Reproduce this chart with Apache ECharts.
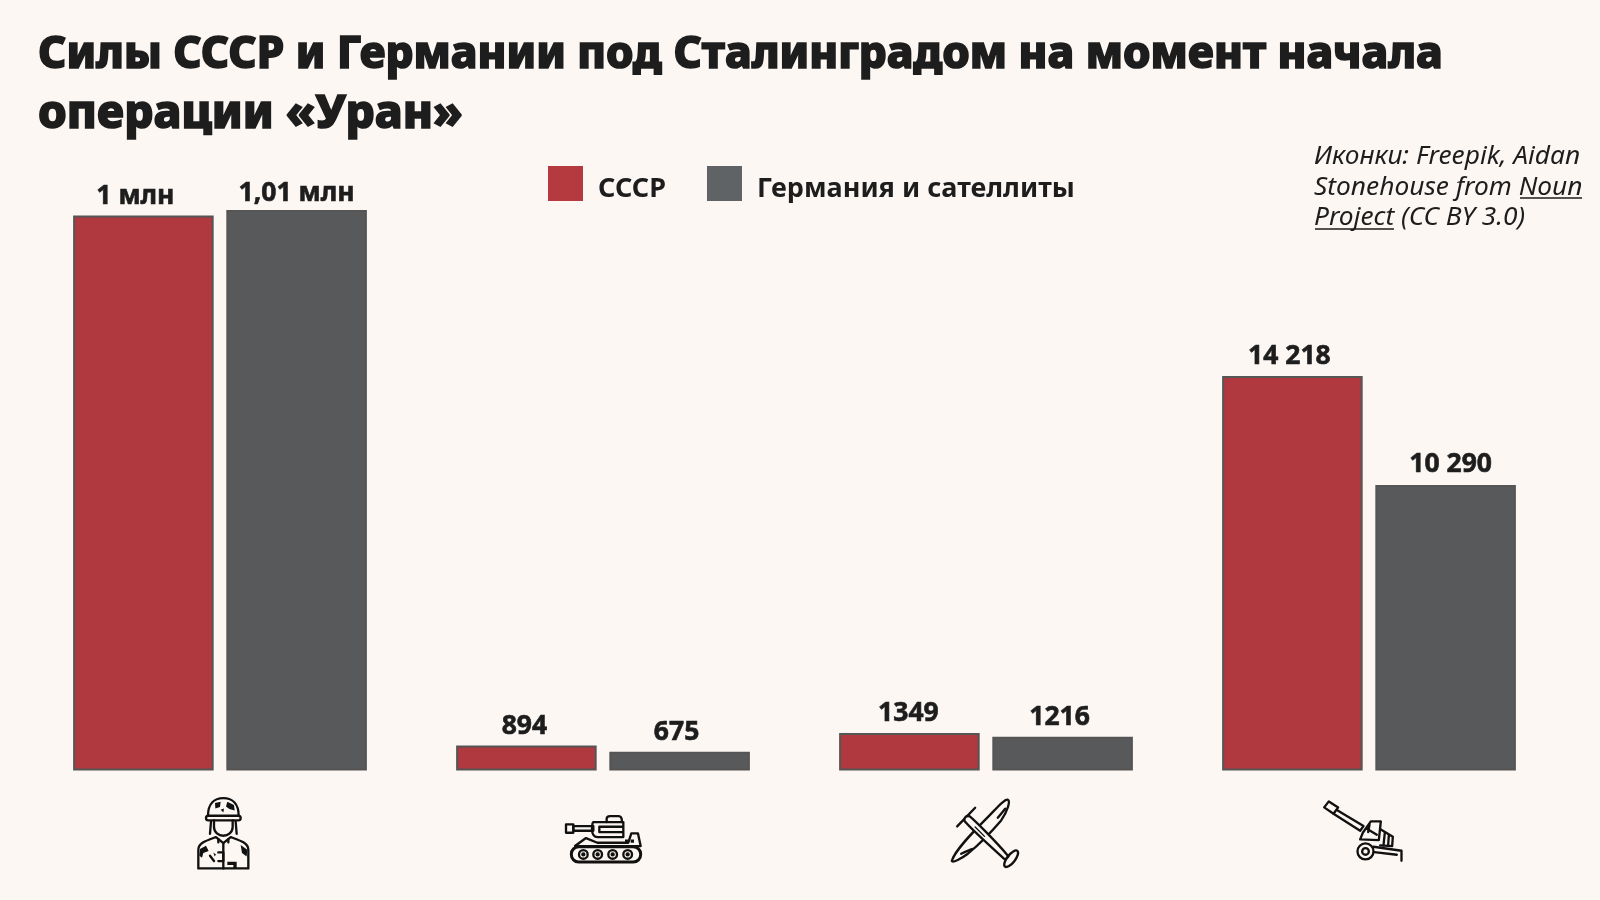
<!DOCTYPE html>
<html>
<head>
<meta charset="utf-8">
<title>Силы СССР и Германии</title>
<script src="https://cdn.jsdelivr.net/npm/echarts@6/dist/echarts.min.js"></script>
<style>
html, body { margin: 0; padding: 0; background: #fcf7f3; }
#chart { width: 1600px; height: 900px; }
</style>
</head>
<body>
<div id="chart"></div>
<script>
var categories = ['soldier', 'tank', 'plane', 'gun'];
var seriesNames = ['СССР', 'Германия и сателлиты'];
// the first group is drawn at 1/50 of its real size (1 млн -> 20000), as in the original
var ussrValues = [20000, 894, 1349, 14218];
var germanyValues = [20200, 675, 1216, 10290];
var ussrLabels = ['1 млн', '894', '1349', '14 218'];
var germanyLabels = ['1,01 млн', '675', '1216', '10 290'];

// the original labels are not quite centred over their bars: [dx, dy]
var ussrLabelShift = [[-8, 0], [-2, 0], [-1, 0], [-3, 0]];
var germanyLabelShift = [[0, 3], [-3, 0], [-3, 0], [5, -1]];

var FONT = '"Noto Sans", sans-serif';
var INK = '#1d1d1d';

// icons drawn in 3x units, box is 100x80 px centred under each category
function icon(dx, dy, body) {
	var svg = '<svg xmlns="http://www.w3.org/2000/svg" width="300" height="240" viewBox="0 0 100 80">' +
		'<g transform="translate(' + dx + ',' + dy + ') scale(0.3333)" fill="none" stroke="#111" stroke-width="7" stroke-linejoin="round" stroke-linecap="round">' +
		body + '</g></svg>';
	return 'data:image/svg+xml;charset=utf-8,' + encodeURIComponent(svg);
}

var icons = {
	soldier: icon(20, 2,
		'<path d="M54 70C54 35 72 17 100 17C128 17 146 35 146 70"/>' +
		'<rect x="48" y="70" width="104" height="14" rx="7"/>' +
		'<path d="M72 84V104C72 120 86 130 100 130C114 130 128 120 128 104V84"/>' +
		'<path d="M63 88L60 124M137 88L140 124"/>' +
		'<path d="M25 228V172C25 152 45 146 78 134L100 152L122 134C155 146 175 152 175 172V228Z"/>' +
		'<path d="M85 140V150M115 140V150M100 152V228"/>' +
		'<path fill="#111" stroke="none" d="M75 32L92 28L90 44L76 48ZM112 28L132 38L134 54L118 50L108 42ZM92 52L102 48L100 60ZM30 170L48 160L56 176L40 182L36 196L28 190ZM152 158L172 172L170 192L156 182ZM70 180L78 186L74 192ZM112 208H140V228H130V218H112Z"/>' +
		'<path d="M85 180H100V206H85M60 190L72 206"/>') ,
	tank: icon(7, 15,
		'<rect x="18" y="57" width="22" height="25"/>' +
		'<path d="M40 62H100V76H40Z"/>' +
		'<path d="M100 50H190V95H112C104 95 96 88 96 72C96 60 98 50 100 50Z"/>' +
		'<path d="M140 50V40C140 34 145 32 150 32H176C182 32 186 36 186 50"/>' +
		'<path d="M118 64H188M118 80H188M118 64V80"/>' +
		'<path d="M45 122L78 98L112 112H205L214 84H234L242 122Z"/>' +
		'<path fill="#111" stroke="none" d="M195 102H205V112H195ZM212 102H222V112H212Z"/>' +
		'<rect x="34" y="124" width="208" height="46" rx="22" stroke-width="9"/>' +
		'<circle cx="70" cy="147" r="13"/><circle cx="113" cy="147" r="13"/><circle cx="158" cy="147" r="13"/><circle cx="203" cy="147" r="13"/>' +
		'<circle cx="70" cy="147" r="3" fill="#111"/><circle cx="113" cy="147" r="3" fill="#111"/><circle cx="158" cy="147" r="3" fill="#111"/><circle cx="203" cy="147" r="3" fill="#111"/>'),
	plane: icon(8.5, 0,
		'<path d="M38 108L92 52"/>' +
		'<path d="M22 212C30 180 90 120 130 80C155 55 180 25 190 28C198 32 190 60 170 90C140 125 100 165 70 190C50 205 25 218 22 212Z"/>' +
		'<path d="M160 82C170 70 178 60 182 55M50 190C60 185 72 180 82 176"/>' +
		'<path fill="#fcf7f3" d="M60 92C58 82 66 74 76 78C90 90 150 148 192 198L182 208C140 170 84 120 60 92Z"/>' +
		'<path d="M92 110L120 138" stroke-width="4"/>' +
		'<ellipse cx="200" cy="205" rx="30" ry="12" transform="rotate(-52 200 205)"/>'),
	gun: icon(0.5, 5,
		'<path d="M14 36L28 18L56 36L42 55Z"/>' +
		'<path d="M52 44L132 92L122 106L42 55"/>' +
		'<path d="M130 112L122 132L178 134L184 78H154Z"/>' +
		'<path d="M142 100L172 118M150 88L146 110"/>' +
		'<path d="M184 102L220 124L218 152L182 150"/>' +
		'<path d="M196 112L192 150M208 120L206 150"/>' +
		'<circle cx="138" cy="168" r="24"/><circle cx="138" cy="168" r="10"/>' +
		'<path d="M162 154L246 166V196M164 170L232 178"/>')
};

var richIcons = {};
categories.forEach(function (name) {
	richIcons[name] = { width: 100, height: 80, backgroundColor: { image: icons[name] } };
});

function titleLine(size) {
	return {
		fontFamily: FONT,
		fontSize: size,
		fontWeight: 800,
		color: INK,
		lineHeight: 60,
		textBorderColor: INK,
		textBorderWidth: 1.6
	};
}

function barSeries(name, values, labels, shifts, color) {
	return {
		name: name,
		type: 'bar',
		barWidth: '36.7%',
		barGap: '9%',
		data: values,
		itemStyle: { color: color, borderColor: '#555', borderWidth: 2 },
		label: {
			show: true,
			position: 'top',
			distance: 6,
			fontFamily: FONT,
			fontSize: 26.5,
			fontWeight: 700,
			color: INK,
			textBorderColor: INK,
			textBorderWidth: 0.6,
			formatter: function (p) { return labels[p.dataIndex]; }
		},
		labelLayout: function (p) {
			return { dx: shifts[p.dataIndex][0], dy: shifts[p.dataIndex][1] };
		}
	};
}

var chart = echarts.init(document.getElementById('chart'));
chart.setOption({
	animation: false,
	backgroundColor: '#fcf7f3',
	title: {
		text: '{a|Силы СССР и Германии под Сталинградом на момент начала}\n{b|операции «Уран»}',
		left: 33,
		top: 20,
		textStyle: {
			lineHeight: 60,
			rich: { a: titleLine(44), b: titleLine(46) }
		}
	},
	legend: {
		left: 548,
		top: 166,
		padding: 0,
		itemWidth: 35,
		itemHeight: 35,
		itemGap: 41,
		icon: 'rect',
		selectedMode: false,
		itemStyle: { borderWidth: 0 },
		formatter: '{t|{name}}',
		textStyle: {
			rich: {
				t: { fontFamily: FONT, fontSize: 27, fontWeight: 700, color: INK, padding: [12, 0, 0, 10] }
			}
		},
		data: [
			{ name: seriesNames[0], itemStyle: { color: '#b43a40', borderWidth: 0 } },
			{ name: seriesNames[1], itemStyle: { color: '#606366', borderWidth: 0 } }
		]
	},
	grid: { left: 28.5, right: 39.5, top: 210, bottom: 129.6 },
	xAxis: {
		type: 'category',
		data: categories,
		axisLine: { show: false },
		axisTick: { show: false },
		axisLabel: {
			margin: 20,
			formatter: function (v) { return '{' + v + '|}'; },
			rich: richIcons
		}
	},
	yAxis: { type: 'value', min: 0, max: 20200, show: false },
	series: [
		barSeries(seriesNames[0], ussrValues, ussrLabels, ussrLabelShift, '#b0393f'),
		barSeries(seriesNames[1], germanyValues, germanyLabels, germanyLabelShift, '#58595b')
	],
	graphic: [
		{
			type: 'text',
			left: 1314,
			top: 141.5,
			style: {
				text: 'Иконки: Freepik, Aidan\nStonehouse from Noun\nProject (CC BY 3.0)',
				font: 'italic 400 26.3px "Noto Sans", sans-serif',
				fill: INK,
				lineHeight: 30.6
			}
		},
		{ type: 'line', shape: { x1: 1520, y1: 198, x2: 1582, y2: 198 }, style: { stroke: INK, lineWidth: 1.5 } },
		{ type: 'line', shape: { x1: 1315, y1: 229, x2: 1394, y2: 229 }, style: { stroke: INK, lineWidth: 1.5 } }
	]
});
</script>
</body>
</html>
